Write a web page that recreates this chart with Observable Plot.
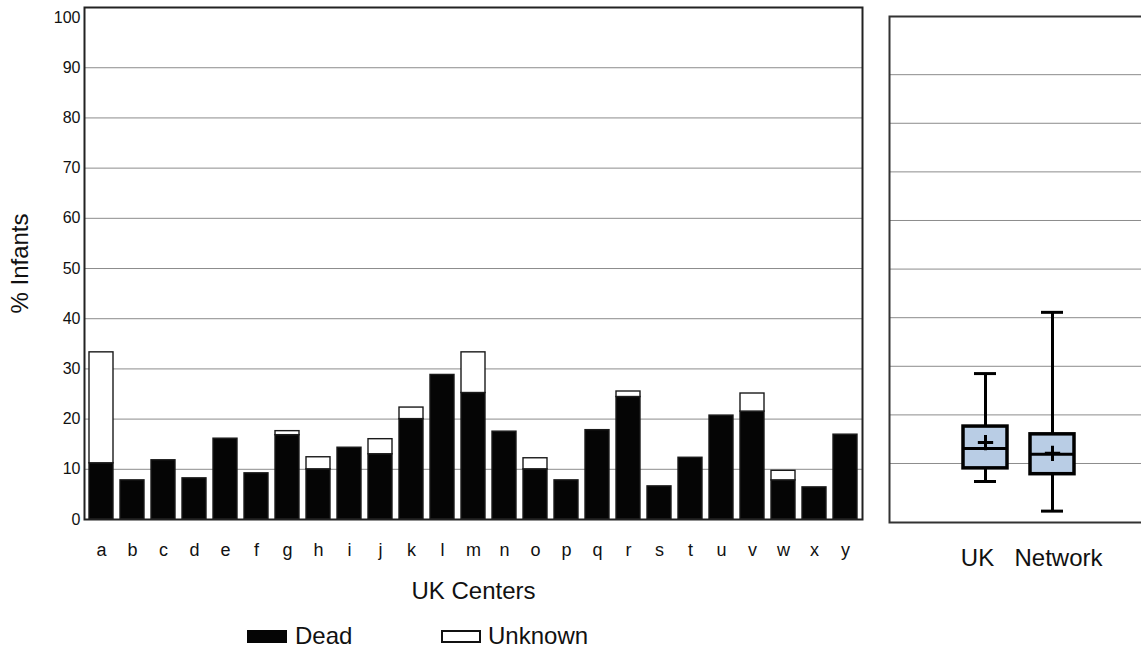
<!DOCTYPE html>
<html>
<head>
<meta charset="utf-8">
<script src="https://cdn.jsdelivr.net/npm/d3@7"></script>
<script src="https://cdn.jsdelivr.net/npm/@observablehq/plot@0.6"></script>
<style>
  html, body { margin: 0; padding: 0; background: #fff; overflow: hidden; width: 1141px; height: 653px; }
  body { position: relative; font-family: "Liberation Sans", Arial, sans-serif; }
  #left { position: absolute; left: 0; top: 0; width: 875px; }
  #right { position: absolute; left: 879px; top: 0; width: 280px; }
  svg { max-width: none !important; }
  .lg { position: absolute; font-size: 24px; color: #111; line-height: 24px; }
  .sw { position: absolute; width: 40px; height: 13px; box-sizing: border-box; }
</style>
</head>
<body>
<div id="left"></div>
<div id="right"></div>
<div class="sw" style="left:247px; top:630px; background:#050505;"></div>
<div class="lg" style="left:295px; top:624px;">Dead</div>
<div class="sw" style="left:441px; top:630px; background:#fff; border:2px solid #111;"></div>
<div class="lg" style="left:488px; top:624px;">Unknown</div>
<script>
// ---- Data ----
const centers = ["a","b","c","d","e","f","g","h","i","j","k","l","m","n","o","p","q","r","s","t","u","v","w","x","y"];
const dead    = [11.2, 7.8, 11.8, 8.2, 16.1, 9.2, 16.8, 10.0, 14.3, 13.0, 20.0, 28.8, 25.2, 17.5, 10.0, 7.8, 17.8, 24.4, 6.6, 12.3, 20.7, 21.5, 7.8, 6.4, 16.9];
const unknown = [22.1, 0, 0, 0, 0, 0, 0.8, 2.4, 0, 3.0, 2.3, 0, 8.1, 0, 2.2, 0, 0, 1.1, 0, 0, 0, 3.6, 1.9, 0, 0];
const seriesNames = ["Dead", "Unknown"];
const yTicks = [0, 10, 20, 30, 40, 50, 60, 70, 80, 90, 100];
const gridTicks = [10, 20, 30, 40, 50, 60, 70, 80, 90];

const boxGroups = ["UK", "Network"];
const boxMin    = [6.3, 0.2];
const boxQ1     = [9.0, 7.8];
const boxMedian = [13.1, 11.9];
const boxQ3     = [17.6, 16.0];
const boxMax    = [28.5, 41.1];
const boxMean   = [14.3, 12.1];

// ---- Tables ----
const rows = [];
centers.forEach((c, i) => {
  rows.push({center: c, type: seriesNames[0], value: dead[i]});
  if (unknown[i] > 0) rows.push({center: c, type: seriesNames[1], value: unknown[i]});
});
const boxes = boxGroups.map((g, i) => ({group: g, min: boxMin[i], q1: boxQ1[i], median: boxMedian[i], q3: boxQ3[i], max: boxMax[i], mean: boxMean[i]}));

const FONT = "'Liberation Sans', Arial, sans-serif";

// ---- Left chart ----
const left = Plot.plot({
  width: 875,
  height: 610,
  marginLeft: 84,
  marginRight: 13,
  marginTop: 7,
  marginBottom: 91,
  style: {fontFamily: FONT, color: "#111", background: "transparent", maxWidth: "none"},
  x: {type: "band", domain: centers, paddingInner: 0.22, paddingOuter: 0.11},
  y: {domain: [0, 102]},
  color: {domain: seriesNames, range: ["#050505", "#ffffff"]},
  marks: [
    Plot.gridY(gridTicks, {stroke: "#8c8c8c", strokeOpacity: 1, strokeWidth: 1}),
    Plot.barY(rows, {x: "center", y: "value", fill: "type", stroke: "#1a1a1a", strokeWidth: 1.4, order: seriesNames}),
    Plot.frame({stroke: "#222", strokeWidth: 2}),
    Plot.axisY(yTicks, {tickSize: 0, tickPadding: 4, fontSize: 16, label: null}),
    Plot.axisX({tickSize: 0, tickPadding: 24, fontSize: 18, label: null}),
    Plot.text(["UK Centers"], {frameAnchor: "bottom", dy: 72, fontSize: 24, lineAnchor: "middle"}),
    Plot.text(["% Infants"], {frameAnchor: "left", dx: -64, rotate: -90, fontSize: 24, lineAnchor: "middle", textAnchor: "middle"})
  ]
});
document.getElementById("left").appendChild(left);

// ---- Right chart (box plot) ----
const right = Plot.plot({
  width: 280,
  height: 572,
  marginLeft: 10,
  marginRight: 0,
  marginTop: 16,
  marginBottom: 50,
  style: {fontFamily: FONT, color: "#111", background: "transparent", maxWidth: "none"},
  x: {type: "band", domain: boxGroups, range: [61, 218], padding: 0.343},
  y: {domain: [-2.14, 101.97]},
  marks: [
    Plot.gridY(gridTicks, {stroke: "#8c8c8c", strokeOpacity: 1, strokeWidth: 1}),
    Plot.frame({stroke: "#333", strokeWidth: 2}),
    Plot.ruleX(boxes, {x: "group", y1: "min", y2: "q1", stroke: "#000", strokeWidth: 3}),
    Plot.ruleX(boxes, {x: "group", y1: "q3", y2: "max", stroke: "#000", strokeWidth: 3}),
    Plot.tickY(boxes, {x: "group", y: "min", stroke: "#000", strokeWidth: 3, inset: 11}),
    Plot.tickY(boxes, {x: "group", y: "max", stroke: "#000", strokeWidth: 3, inset: 11}),
    Plot.rectY(boxes, {x: "group", y1: "q1", y2: "q3", fill: "#b9cde5", stroke: "#000", strokeWidth: 3.5}),
    Plot.tickY(boxes, {x: "group", y: "median", stroke: "#000", strokeWidth: 3}),
    Plot.dot(boxes, {x: "group", y: "mean", symbol: "plus", r: 5, stroke: "#000", strokeWidth: 3}),
    Plot.axisX([boxGroups[0]], {tickSize: 0, tickPadding: 26, fontSize: 24, label: null, dx: -8}),
    Plot.axisX([boxGroups[1]], {tickSize: 0, tickPadding: 26, fontSize: 24, label: null, dx: 6}),
    Plot.axisY({ticks: [], label: null})
  ]
});
document.getElementById("right").appendChild(right);
</script>
</body>
</html>
